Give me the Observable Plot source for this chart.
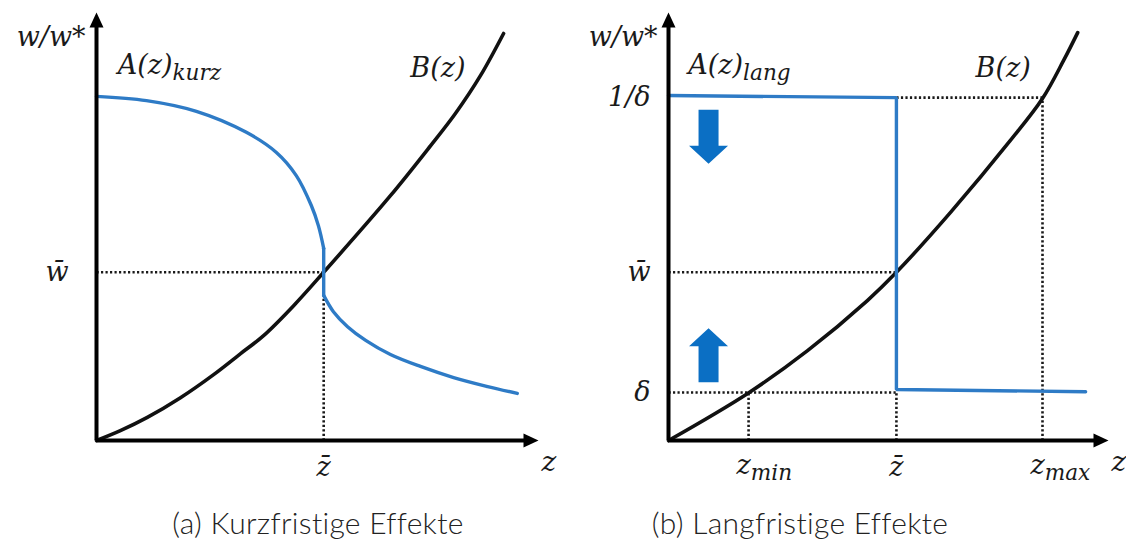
<!DOCTYPE html>
<html><head><meta charset="utf-8">
<script src="https://cdn.jsdelivr.net/npm/d3@7"></script>
<script src="https://cdn.jsdelivr.net/npm/@observablehq/plot@0.6"></script>
<style>
body{margin:0;background:#fff;}
#wrap{position:relative;width:1126px;height:550px;overflow:hidden;}
#panels{display:flex;}
.cap{position:absolute;top:504px;font-family:Lato,sans-serif;font-weight:300;font-size:30px;letter-spacing:0.3px;color:#222;white-space:nowrap;transform:translateX(-50%);}
</style></head><body>
<div id="wrap"><div id="panels"></div>
<div class="cap" id="capA" style="left:318px"></div>
<div class="cap" id="capB" style="left:800px"></div></div>
<script>
// ---------- data (z = horizontal, w = vertical, arbitrary units 0..10) ----------
// Panel (a): short-run
const aKurzZ   = [0, 1.13, 2.26, 3.39, 4.07, 4.52, 4.86, 5.02, 5.14,   5.14, 5.36, 5.68, 6.09, 6.65, 7.33, 8.08, 8.85, 9.52];
const aKurzW   = [8.04, 7.94, 7.69, 7.20, 6.73, 6.19, 5.49, 5.02, 4.49,   3.39, 3.01, 2.66, 2.34, 2.01, 1.73, 1.47, 1.26, 1.10];
const aKurzSeg = [1, 1, 1, 1, 1, 1, 1, 1, 1,   2, 2, 2, 2, 2, 2, 2, 2, 2];
const bLeftZ = [0, 0.54, 1.15, 1.90, 2.65, 3.26, 3.78, 4.46, 5.14, 6.65, 7.56, 8.12, 8.69, 9.21];
const bLeftW = [0, 0.23, 0.54, 1.00, 1.54, 2.03, 2.45, 3.15, 3.93, 5.72, 6.89, 7.64, 8.53, 9.51];
const leftXTickZ = [5.14];
const leftXTickLabels = ["z\u0304"];
const leftYTickW = [3.93];
const leftYTickLabels = ["w\u0304"];

// Panel (b): long-run
const aLangZ = [0, 5.18, 5.18, 9.48];
const aLangW = [8.06, 8.01, 1.19, 1.14];
const bRightZ = [0, 1.80, 3.16, 4.52, 5.18, 6.41, 7.77, 8.50, 8.98, 9.30];
const bRightW = [0, 1.10, 2.10, 3.27, 3.93, 5.33, 7.01, 7.99, 8.88, 9.53];
const rightXTickZ = [1.82, 5.18, 8.50];
const rightXTickLabels = ["z_min", "z\u0304", "z_max"];
const rightYTickW = [1.12, 3.93, 8.01];
const rightYTickLabels = ["\u03b4", "w\u0304", "1/\u03b4"];
const pressureZ = [0.91, 0.91];
const pressureFromW = [7.73, 1.36];
const pressureDir = ["down", "up"];

// Curve labels
const curveLabelText = ["A(z)_kurz", "B(z)", "A(z)_lang", "B(z)"];
const curveLabelZ = [0.48, 7.10, 0.45, 6.98];
const curveLabelW = [8.76, 8.69, 8.76, 8.69];
const curveLabelPanel = ["a", "a", "b", "b"];

const captions = ["(a) Kurzfristige Effekte", "(b) Langfristige Effekte"];
const axisTitleY = "w/w*";
const axisTitleX = "z";

// ---------- helpers ----------
const BLUE = "#2e7bc6";
const ARROWBLUE = "#0b6fc4";
const INK = "#1a1a1a";
const mathFont = {fontFamily: "DejaVu Serif", fontStyle: "italic", fill: INK};

const headShape = {draw(ctx, l) { ctx.moveTo(-7, 0); ctx.lineTo(0, -l); ctx.lineTo(7, 0); ctx.closePath(); }};
const blockShape = {draw(ctx, l) {
  const h = 18, s = 10, hw = 19.5;
  ctx.moveTo(-s, 0); ctx.lineTo(-s, -(l - h)); ctx.lineTo(-hw, -(l - h)); ctx.lineTo(0, -l);
  ctx.lineTo(hw, -(l - h)); ctx.lineTo(s, -(l - h)); ctx.lineTo(s, 0); ctx.closePath();
}};

function fixText(svg) {
  d3.select(svg).selectAll("text").each(function () {
    const t = this.textContent;
    if (t.includes("_")) {
      const [base, sub] = t.split("_");
      const sel = d3.select(this);
      sel.text(null);
      sel.append("tspan").text(base);
      sel.append("tspan").attr("dy", "0.28em").attr("font-size", "0.8em").text(sub);
    }
  });
  return svg;
}

function panel({aLines, B, xT, xL, yT, yL, guides, labels, ml, mr, yTickDx, extra = []}) {
  const xTicks = xT.map((z, i) => ({z, label: xL[i]}));
  const yTicks = yT.map((w, i) => ({w, label: yL[i]}));
  const svg = Plot.plot({
    width: 563, height: 490,
    marginLeft: ml, marginRight: mr, marginTop: 12, marginBottom: 50,
    x: {domain: [0, 10], axis: null},
    y: {domain: [0, 10], axis: null},
    style: {background: "white"},
    marks: [
      Plot.link(guides, {x1: "x1", y1: "y1", x2: "x2", y2: "y2", stroke: INK, strokeWidth: 2.6, strokeDasharray: "2.2,2.3"}),
      Plot.line(B, {x: "z", y: "w", curve: "catmull-rom", stroke: "#111", strokeWidth: 3.6}),
      ...aLines,
      ...extra,
      Plot.ruleX([0], {y1: 0, y2: 9.7, stroke: "#000", strokeWidth: 4}),
      Plot.ruleY([0], {x1: 0, x2: 9.7, stroke: "#000", strokeWidth: 4}),
      Plot.vector([0], {x: 0, y: 10, length: 15, anchor: "end", rotate: 0, shape: headShape, fill: "#000", stroke: "none"}),
      Plot.vector([0], {x: 10, y: 0, length: 15, anchor: "end", rotate: 90, shape: headShape, fill: "#000", stroke: "none"}),
      Plot.text([axisTitleY], {x: 0, y: 10, text: d => d, textAnchor: "end", dx: -11, dy: 25, fontSize: 27, ...mathFont}),
      Plot.text([axisTitleX], {x: 10, y: 0, text: d => d, textAnchor: "start", dx: 3, dy: 22, fontSize: 28, ...mathFont}),
      Plot.text(xTicks.filter(d => !d.label.includes("_")), {x: "z", y: 0, text: "label", textAnchor: "middle", dy: 27, fontSize: 27, ...mathFont}),
      Plot.text(xTicks.filter(d => d.label.includes("_")), {x: "z", y: 0, text: "label", textAnchor: "start", dx: -12, dy: 25, fontSize: 27, ...mathFont}),
      Plot.text(yTicks, {x: 0, y: "w", text: "label", textAnchor: "end", dx: yTickDx, fontSize: 27, ...mathFont}),
      Plot.text(labels, {x: "z", y: "w", text: "t", textAnchor: "start", fontSize: 27, ...mathFont})
    ]
  });
  return fixText(svg);
}

const labelsFor = p => curveLabelText.map((t, i) => ({t, z: curveLabelZ[i], w: curveLabelW[i], p: curveLabelPanel[i]})).filter(d => d.p === p);

// Panel (a)
const aKurz = aKurzZ.map((z, i) => ({z, w: aKurzW[i], seg: aKurzSeg[i]}));
const upperEnd = aKurz.filter(d => d.seg === 1).at(-1);
const lowerStart = aKurz.find(d => d.seg === 2);
const wbarL = leftYTickW[0], zbarL = leftXTickZ[0];
const left = panel({
  aLines: [
    Plot.line(aKurz, {x: "z", y: "w", z: "seg", curve: "catmull-rom", stroke: BLUE, strokeWidth: 3.4}),
    Plot.link([{a: upperEnd, b: lowerStart}], {x1: d => d.a.z, y1: d => d.a.w, x2: d => d.b.z, y2: d => d.b.w, stroke: BLUE, strokeWidth: 3.4, strokeLinecap: "round"})
  ],
  B: bLeftZ.map((z, i) => ({z, w: bLeftW[i]})),
  xT: leftXTickZ, xL: leftXTickLabels, yT: leftYTickW, yL: leftYTickLabels,
  guides: [
    {x1: 0, y1: wbarL, x2: zbarL, y2: wbarL},
    {x1: zbarL, y1: 0, x2: zbarL, y2: wbarL}
  ],
  labels: labelsFor("a"), ml: 96, mr: 25, yTickDx: -28
});

// Panel (b)
const [zmin, zbarR, zmax] = rightXTickZ;
const [dlt, wbarR, invd] = rightYTickW;
const pressure = pressureZ.map((z, i) => ({z, w: pressureFromW[i], dir: pressureDir[i]}));
const right = panel({
  aLines: [Plot.line(aLangZ.map((z, i) => ({z, w: aLangW[i]})), {x: "z", y: "w", stroke: BLUE, strokeWidth: 3.4, strokeLinejoin: "miter"})],
  B: bRightZ.map((z, i) => ({z, w: bRightW[i]})),
  xT: rightXTickZ, xL: rightXTickLabels, yT: rightYTickW, yL: rightYTickLabels,
  guides: [
    {x1: zbarR, y1: invd, x2: zmax, y2: invd},
    {x1: zmax, y1: 0, x2: zmax, y2: invd},
    {x1: 0, y1: wbarR, x2: zbarR, y2: wbarR},
    {x1: 0, y1: dlt, x2: zbarR, y2: dlt},
    {x1: zmin, y1: 0, x2: zmin, y2: dlt},
    {x1: zbarR, y1: 0, x2: zbarR, y2: dlt}
  ],
  labels: labelsFor("b"), ml: 105, mr: 18, yTickDx: -18,
  extra: [Plot.vector(pressure, {x: "z", y: "w", length: 54, anchor: "start", rotate: d => d.dir === "down" ? 180 : 0, shape: blockShape, fill: ARROWBLUE, stroke: "none"})]
});

document.getElementById("panels").append(left, right);
document.getElementById("capA").textContent = captions[0];
document.getElementById("capB").textContent = captions[1];
</script>
</body></html>
